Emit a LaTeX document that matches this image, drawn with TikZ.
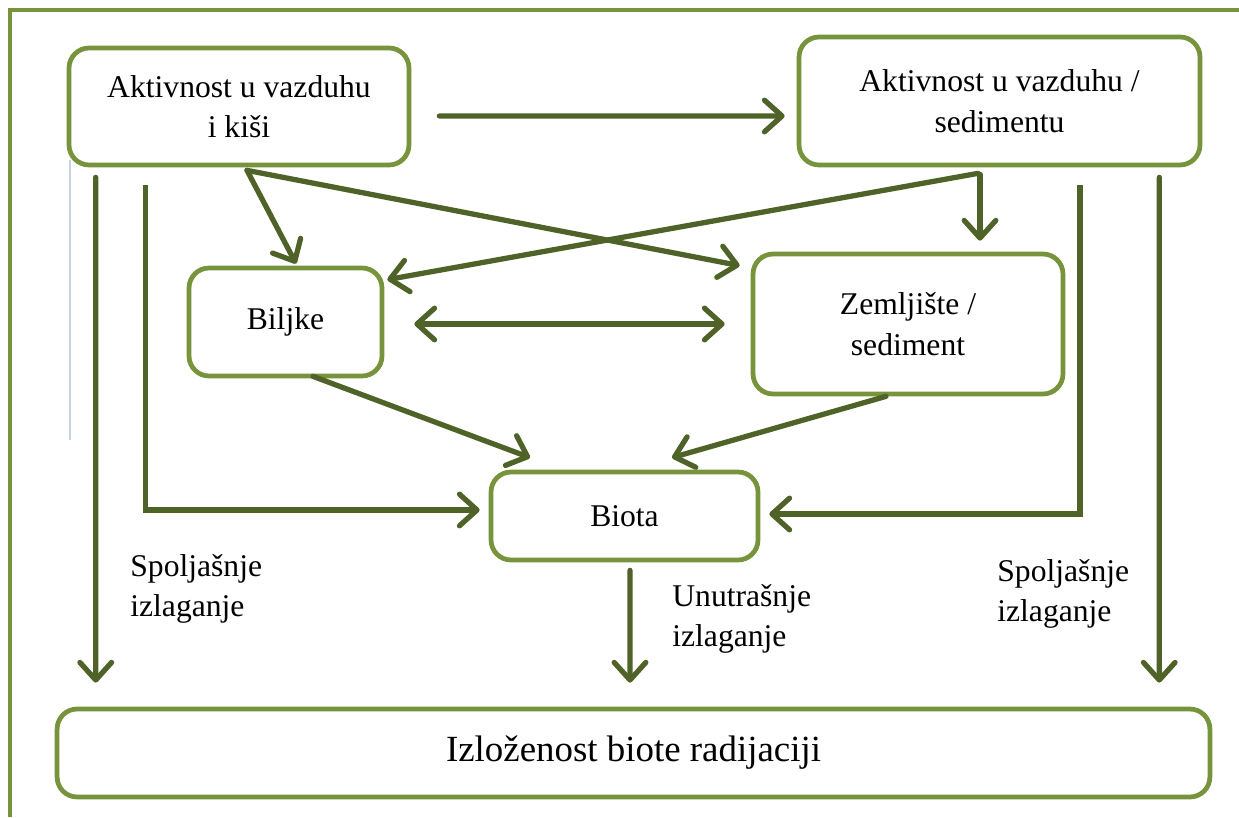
\documentclass[tikz,border=0pt]{standalone}
\usepackage{fontspec}
\setmainfont{Liberation Serif}
\usetikzlibrary{arrows.meta,calc}
\definecolor{olivebox}{HTML}{77933C}
\definecolor{olivearrow}{HTML}{4F6228}
\definecolor{marginblue}{HTML}{C5D3E3}
\begin{document}
\begin{tikzpicture}[x=0.02cm, y=-0.02cm,
    box/.style={draw=olivebox, line width=2.7pt, rounded corners=0.4cm, fill=white,
                align=center, inner sep=0pt, font=\fontsize{18}{23}\selectfont},
    flow/.style={draw=olivearrow, line width=3pt, line cap=round,
                 -{Straight Barb[length=10pt, width=18pt, round]}},
    both/.style={flow, {Straight Barb[length=10pt, width=18pt, round]}-{Straight Barb[length=10pt, width=18pt, round]}},
    lab/.style={align=left, anchor=west, inner sep=0pt, font=\fontsize{18}{23}\selectfont}]
  \useasboundingbox (0,0) rectangle (1239,817);
  % page frame and the faint margin line
  \draw[olivebox, line width=2pt] (10,817) -- (10,10) -- (1239,10);
  \draw[marginblue, line width=1.1pt] (70,160) -- (70,440);

  % boxes, at their centres
  \node[box, minimum width=6.8cm, minimum height=2.34cm] (air) at (239,106.5) {Aktivnost u vazduhu\\i kiši};
  \node[box, minimum width=8.02cm, minimum height=2.56cm] (sed) at (999.5,101) {Aktivnost u vazduhu /\\sedimentu};
  \node[box, minimum width=3.86cm, minimum height=2.16cm] (plant) at (285.5,322) {Biljke};
  \node[box, minimum width=6.2cm, minimum height=2.8cm] (soil) at (908,324) {Zemljište /\\sediment};
  \node[box, minimum width=5.34cm, minimum height=1.76cm] (biota) at (624.5,516) {Biota};
  \node[box, minimum width=23.06cm, minimum height=1.76cm, font=\fontsize{21}{25}\selectfont] (expo) at (633.5,753) {Izloženost biote radijaciji};

  % transfer paths
  \draw[flow] ($(air.east)+(28,9.5)$) -- ($(sed.west)+(-12,15)$);
  \draw[flow] ($(air.south)+(8,3)$) -- ($(plant.north)+(10.5,-2)$);
  \draw[flow] ($(air.south)+(8,3)$) -- ($(soil.north west)+(-11,14)$);
  \draw[flow] ($(sed.south)+(-21.5,6)$) -- ($(plant.north east)+(3,14)$);
  \draw[flow] ($(sed.south)+(-19.5,7)$) -- ($(soil.north)+(72,-11)$);
  \draw[both] ($(plant.east)+(30,2)$) -- ($(soil.west)+(-26,0)$);
  \draw[flow] ($(plant.south)+(27.5,-2)$) -- ($(biota.north)+(-94.5,-12)$);
  \draw[flow] ($(soil.south)+(-22,0)$) -- ($(biota.north)+(47.5,-12)$);
  \draw[flow, line cap=butt] ($(air.south west)+(79,18)$) |- ($(biota.west)+(-9,-6)$);
  \draw[flow, line cap=butt] ($(sed.south)+(80.5,18)$) |- ($(biota.east)+(9,-2)$);

  % exposure paths
  \draw[flow] ($(air.south west)+(29,10)$) -- ($(expo.north west)+(41,-24)$);
  \draw[flow] ($(sed.south east)+(-43,10)$) -- ($(expo.north east)+(-53,-24)$);
  \draw[flow] ($(biota.south)+(5.5,8)$) -- ($(expo.north)+(-3.5,-24)$);
  \node[lab] (extl) at (130,589) {Spoljašnje\\izlaganje};
  \node[lab] (intl) at (672,619) {Unutrašnje\\izlaganje};
  \node[lab] (extr) at (997,594) {Spoljašnje\\izlaganje};
\end{tikzpicture}
\end{document}
